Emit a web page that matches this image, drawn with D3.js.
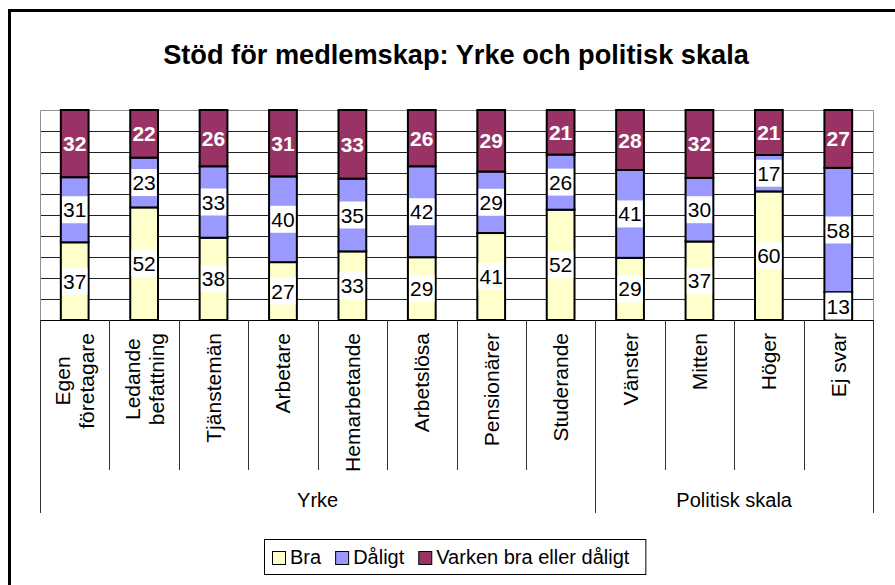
<!DOCTYPE html>
<html>
<head>
  <meta charset="utf-8">
  <title>Stöd för medlemskap</title>
  <script src="https://d3js.org/d3.v7.min.js"></script>
  <style>
    body { margin: 0; background: #fff; }
    svg { display: block; font-family: Arial, 'Liberation Sans', sans-serif; }
  </style>
</head>
<body>
  <div id="chart"></div>
  <script>
    // Data
    var categories = ["Egen\nföretagare", "Ledande\nbefattning", "Tjänstemän", "Arbetare",
                      "Hemarbetande", "Arbetslösa", "Pensionärer", "Studerande",
                      "Vänster", "Mitten", "Höger", "Ej svar"];
    var groups = ["Yrke", "Politisk skala"];
    var groupSizes = [8, 4];
    var seriesNames = ["Bra", "Dåligt", "Varken bra eller dåligt"];
    var bra    = [37, 52, 38, 27, 33, 29, 41, 52, 29, 37, 60, 13];
    var daligt = [31, 23, 33, 40, 35, 42, 29, 26, 41, 30, 17, 58];
    var varken = [32, 22, 26, 31, 33, 26, 29, 21, 28, 32, 21, 27];
    var gridTicks = [0, 0.1, 0.2, 0.3, 0.4, 0.5, 0.6, 0.7, 0.8, 0.9, 1];
    var colors = ["#FFFFCC", "#9999FF", "#993366"];

    var W = 895, H = 585;
    var plot = {left: 40, right: 873, top: 110, bottom: 320};

    var svg = d3.select("#chart").append("svg")
      .attr("width", W).attr("height", H);

    // outer frame (right and bottom sides run off the picture)
    svg.append("rect")
      .attr("x", 9.5).attr("y", 10.5).attr("width", 960).attr("height", 700)
      .attr("fill", "none").attr("stroke", "#000").attr("stroke-width", 3);

    // title
    svg.append("text")
      .attr("x", 456).attr("y", 64)
      .attr("text-anchor", "middle")
      .attr("font-size", "27.2px").attr("font-weight", "bold")
      .text("Stöd för medlemskap: Yrke och politisk skala");

    var rows = categories.map(function(c, i) {
      return {cat: c, s0: bra[i], s1: daligt[i], s2: varken[i]};
    });
    var stack = d3.stack().keys(["s0", "s1", "s2"]).offset(d3.stackOffsetExpand);
    var layers = stack(rows);

    var x = d3.scaleBand().domain(categories).range([plot.left, plot.right]);
    var y = d3.scaleLinear().domain([0, 1]).range([plot.bottom, plot.top]);
    var barW = x.bandwidth() / 2.5;

    // gridlines
    svg.append("g").selectAll("line")
      .data(gridTicks.slice(1, -1))
      .join("line")
        .attr("x1", plot.left).attr("x2", plot.right)
        .attr("y1", function(d) { return Math.round(y(d)) + 0.5; })
        .attr("y2", function(d) { return Math.round(y(d)) + 0.5; })
        .attr("stroke", "#222").attr("stroke-width", 1);

    // plot area border
    svg.append("path")
      .attr("d", "M" + (plot.left + 0.5) + "," + plot.bottom + "V" + (plot.top + 0.5) +
                 "H" + (plot.right + 0.5) + "V" + plot.bottom)
      .attr("fill", "none").attr("stroke", "#909090").attr("stroke-width", 1);

    // bars
    svg.append("g").selectAll("g")
      .data(layers)
      .join("g")
        .attr("fill", function(d, i) { return colors[i]; })
      .selectAll("rect")
      .data(function(d) { return d; })
      .join("rect")
        .attr("x", function(d) { return x(d.data.cat) + (x.bandwidth() - barW) / 2; })
        .attr("y", function(d) { return y(d[1]); })
        .attr("width", barW)
        .attr("height", function(d) { return y(d[0]) - y(d[1]); })
        .attr("stroke", "#000").attr("stroke-width", 2);

    // axis line
    svg.append("line")
      .attr("x1", plot.left).attr("x2", plot.right + 1)
      .attr("y1", plot.bottom + 0.5).attr("y2", plot.bottom + 0.5)
      .attr("stroke", "#000").attr("stroke-width", 1);

    // data labels
    var labelG = svg.append("g").attr("font-size", "21px");
    layers.forEach(function(layer, li) {
      var vals = [bra, daligt, varken][li];
      layer.forEach(function(d, i) {
        var cx = x(d.data.cat) + x.bandwidth() / 2;
        var cy = (y(d[0]) + y(d[1])) / 2;
        var t = labelG.append("text")
          .attr("x", cx).attr("y", cy + 7.5)
          .attr("text-anchor", "middle")
          .text(vals[i]);
        if (li === 2) {
          t.attr("fill", "#fff").attr("font-weight", "bold");
        } else {
          var w = t.node().getComputedTextLength();
          labelG.insert("rect", function() { return t.node(); })
            .attr("x", cx - w / 2 - 1).attr("y", cy - 13.5)
            .attr("width", w + 2).attr("height", 27)
            .attr("fill", "#fff");
        }
      });
    });

    // category separators and group separators
    var sepG = svg.append("g").attr("stroke", "#333").attr("stroke-width", 1);
    var boundaries = [0];
    groupSizes.reduce(function(acc, n) { boundaries.push(acc + n); return acc + n; }, 0);
    categories.forEach(function(c, i) {
      if (boundaries.indexOf(i) >= 0) return;
      var xx = Math.round(x(c)) + 0.5;
      sepG.append("line").attr("x1", xx).attr("x2", xx).attr("y1", plot.bottom).attr("y2", 470);
    });
    boundaries.forEach(function(b) {
      var xx = Math.round(b < categories.length ? x(categories[b]) : plot.right) + 0.5;
      sepG.append("line").attr("x1", xx).attr("x2", xx).attr("y1", plot.bottom).attr("y2", 513);
    });

    // category labels (rotated, lines centred in a block that starts at y=333)
    var catG = svg.append("g").attr("font-size", "21px");
    categories.forEach(function(c) {
      var lines = c.split("\n");
      var g = catG.append("g");
      var texts = lines.map(function(l) {
        return g.append("text").attr("text-anchor", "middle").text(l);
      });
      var maxW = d3.max(texts, function(t) { return t.node().getComputedTextLength(); });
      var cy = 333 + maxW / 2;
      var cx = x(c) + x.bandwidth() / 2;
      var lh = 24;
      texts.forEach(function(t, k) {
        var off = (k - (lines.length - 1) / 2) * lh + 7.5;
        t.attr("transform", "translate(" + (cx + off) + "," + cy + ") rotate(-90)");
      });
    });

    // group labels
    var start = 0;
    groups.forEach(function(gname, gi) {
      var x0 = x(categories[start]);
      var x1 = x(categories[start + groupSizes[gi] - 1]) + x.bandwidth();
      svg.append("text")
        .attr("x", (x0 + x1) / 2).attr("y", 507)
        .attr("text-anchor", "middle").attr("font-size", "20px")
        .text(gname);
      start += groupSizes[gi];
    });

    // legend
    var legend = svg.append("g").attr("font-size", "20px");
    var lx = 272;
    seriesNames.forEach(function(name, i) {
      legend.append("rect")
        .attr("x", lx + 0.5).attr("y", 551.5).attr("width", 13).attr("height", 13)
        .attr("fill", colors[i]).attr("stroke", "#000").attr("stroke-width", 1);
      var t = legend.append("text").attr("x", lx + 18).attr("y", 563.5).text(name);
      lx += 18 + t.node().getComputedTextLength() + 14;
    });
    legend.insert("rect", ":first-child")
      .attr("x", 264.5).attr("y", 539.5)
      .attr("width", lx - 14 + 16 - 264).attr("height", 35)
      .attr("fill", "#fff").attr("stroke", "#000").attr("stroke-width", 1);
  </script>
</body>
</html>
